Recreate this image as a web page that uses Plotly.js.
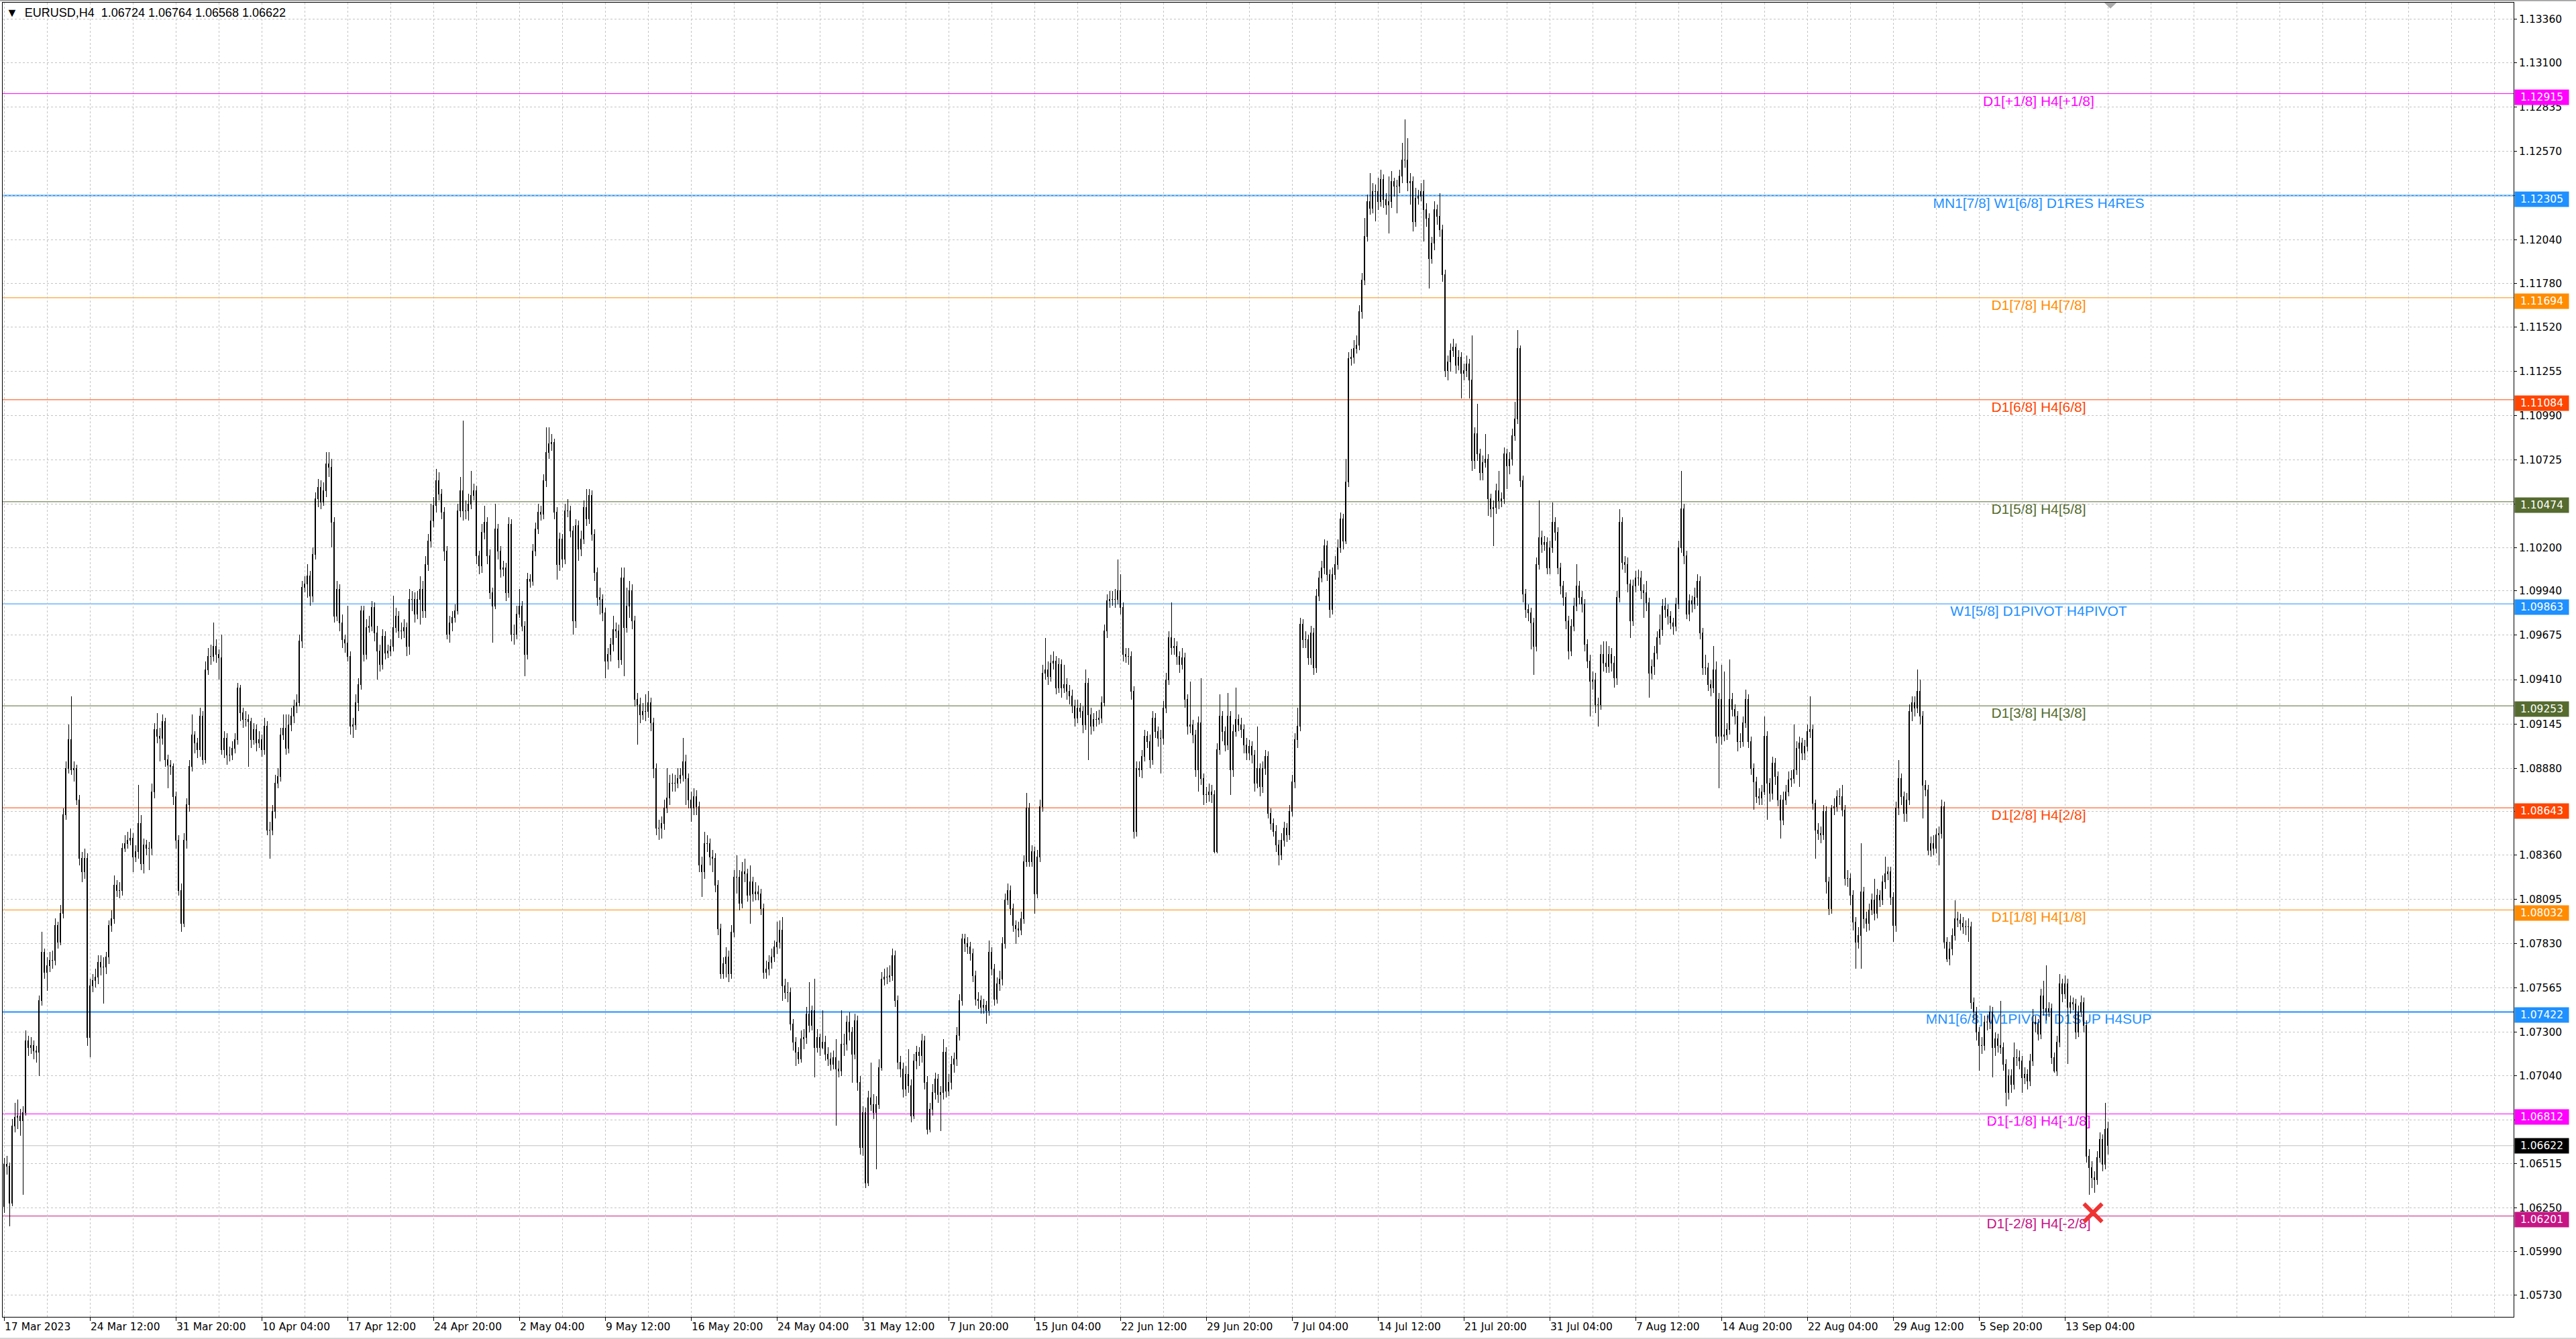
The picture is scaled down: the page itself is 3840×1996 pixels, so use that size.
<!DOCTYPE html>
<html>
<head>
<meta charset="utf-8">
<script src="https://cdn.plot.ly/plotly-3.0.1.min.js"></script>
<style>
html,body{margin:0;padding:0;background:#ffffff;overflow:hidden;}
#chart{width:3840px;height:1996px;}
#chart .boxlayer path{shape-rendering:crispEdges;}
</style>
</head>
<body>
<div id="chart"></div>
<script>
// ---------------- DATA ----------------
const symbolTitle = '\u25BC\u00a0\u00a0EURUSD,H4\u00a0\u00a01.06724 1.06764 1.06568 1.06622';

const timeLabels = ['17 Mar 2023','24 Mar 12:00','31 Mar 20:00','10 Apr 04:00','17 Apr 12:00','24 Apr 20:00',
  '2 May 04:00','9 May 12:00','16 May 20:00','24 May 04:00','31 May 12:00','7 Jun 20:00','15 Jun 04:00',
  '22 Jun 12:00','29 Jun 20:00','7 Jul 04:00','14 Jul 12:00','21 Jul 20:00','31 Jul 04:00','7 Aug 12:00',
  '14 Aug 20:00','22 Aug 04:00','29 Aug 12:00','5 Sep 20:00','13 Sep 04:00'];

// H4 candles, prices in pips above 1.0000 (e.g. 662 = 1.0662)
const openPips = [
626,651,650,628,674,679,680,677,682,725, 721,722,719,718,749,778,766,770,773,773,
794,784,801,860,888,905,887,888,869,834, 826,834,727,758,761,763,772,769,769,775,
794,798,818,815,815,840,843,845,846,835, 838,855,831,842,840,840,874,911,907,906,
916,893,890,889,871,845,815,795,845,866, 889,908,903,899,919,893,947,955,955,961,
956,954,899,906,896,896,900,905,936,921, 917,917,916,905,911,903,905,899,913,851,
851,862,879,883,908,912,900,914,919,925, 927,964,996,998,1003,991,1016,1049,1056,1047,
1054,1070,1068,1035,979,995,975,965,963,955, 913,914,927,938,982,956,972,973,984,969,
958,950,967,957,958,961,972,979,970,970, 972,961,989,989,980,989,995,982,1010,1024,
1036,1045,1060,1052,1041,1018,968,975,978,982, 1042,1054,1042,1042,1046,1051,1054,1015,1009,1029,
1035,1015,993,985,1031,1018,1007,1008,993,1034, 968,968,980,985,973,956,1001,1000,1018,1031,
1041,1040,1060,1077,1082,1083,1041,1010,1025,1013, 1042,1042,1030,976,1033,1019,1025,1044,1037,1051,
1028,1005,990,989,981,952,956,962,971,970, 953,1002,972,985,994,976,929,926,920,922,
922,927,915,888,852,852,855,864,870,879, 879,879,882,884,892,882,869,864,871,865,
830,826,843,843,835,834,818,792,765,771, 775,765,790,823,823,807,826,825,812,820,
813,814,813,804,766,768,772,775,781,784, 791,758,754,754,735,724,718,714,726,727,
741,734,743,721,727,721,724,717,714,711, 715,708,707,723,723,736,730,717,737,700,
661,682,640,691,687,682,687,709,762,763, 763,764,776,749,712,708,696,705,698,680,
713,718,716,725,700,672,684,694,702,693, 694,718,695,700,711,714,728,749,786,783,
781,777,764,750,749,745,746,743,778,768, 750,759,762,783,809,815,804,794,792,791,
798,832,864,832,838,813,835,865,945,947, 943,951,952,936,950,936,938,934,931,925,
918,924,922,914,939,920,913,917,917,918, 927,970,988,989,989,989,994,984,956,955,
955,934,850,888,887,895,907,904,893,918, 910,906,906,924,941,966,960,961,955,950,
954,929,913,914,908,887,915,882,872,872, 874,872,838,899,919,910,902,919,887,910,
917,914,911,902,897,901,896,879,888,877, 888,895,861,855,850,842,836,845,852,848,
862,880,905,913,974,965,965,954,969,948, 991,1002,1008,1021,1004,983,1004,1010,1020,1037,
1024,1059,1133,1134,1139,1141,1161,1180,1206,1227, 1223,1233,1233,1227,1240,1228,1225,1227,1239,1236,
1236,1242,1252,1252,1238,1239,1215,1229,1230,1233, 1222,1217,1193,1202,1222,1218,1210,1183,1126,1131,
1138,1140,1129,1134,1124,1126,1130,1120,1072,1088, 1076,1065,1071,1073,1049,1043,1044,1054,1048,1049,
1076,1069,1073,1087,1097,1139,1060,992,983,981, 975,961,1010,1026,1022,1023,1008,1020,1035,1029,
1008,997,990,976,958,973,985,997,990,986, 962,952,940,941,926,926,956,951,949,956,
951,942,990,1035,1011,1010,998,976,997,1002, 1002,994,993,987,945,949,957,966,971,985,
983,979,975,973,986,1020,1043,1015,980,988, 986,990,1000,969,948,948,938,936,947,907,
929,907,908,911,929,923,919,904,904,915, 929,904,888,880,871,870,874,907,879,873,
891,883,869,857,869,874,881,882,887,900, 903,897,901,910,911,867,851,849,848,862,
820,804,864,865,871,871,863,822,822,812, 796,784,788,814,798,795,803,809,801,812,
809,820,825,826,811,794,864,882,871,861, 869,922,927,924,934,919,878,875,839,843,
840,848,849,865,784,774,780,788,798,797, 795,793,793,793,748,742,730,722,722,736,
736,742,721,726,722,721,711,694,704,699, 715,715,713,703,705,701,713,736,735,729,
752,744,742,744,715,707,724,759,753,759, 745,748,747,730,742,748,734,656,649,643,
642,655,666,651,672.4];

const highPips = [
655,656,652,678,688,690,684,686,731,728, 727,725,722,752,790,780,775,778,779,798,
796,806,864,892,914,931,892,890,872,838, 840,837,762,765,768,776,776,775,778,797,
803,824,821,820,843,848,850,852,849,842, 878,860,846,845,844,879,915,921,912,920,
918,896,893,891,874,848,819,849,870,893, 920,910,906,924,922,952,960,962,975,965,
959,968,910,909,901,904,909,939,938,924, 922,920,918,915,914,910,908,918,916,856,
866,884,888,912,920,920,920,924,929,932, 968,1000,1003,1010,1006,1020,1053,1061,1060,1059,
1077,1077,1073,1038,1000,998,980,968,985,958, 918,932,942,985,985,977,979,988,987,973,
962,971,970,962,965,991,984,982,975,977, 975,995,994,993,994,1003,1000,1015,1028,1046,
1050,1067,1065,1055,1044,1021,979,982,986,1046, 1062,1096,1048,1052,1066,1058,1057,1018,1034,1045,
1038,1019,996,1046,1034,1021,1012,1011,1038,1037, 974,985,995,988,976,1005,1004,1022,1035,1046,
1045,1064,1092,1092,1088,1085,1044,1029,1028,1046, 1049,1045,1033,1037,1036,1030,1048,1055,1055,1054,
1031,1008,996,992,984,960,966,979,975,974, 1008,1008,996,1000,998,979,933,930,927,932,
934,930,918,891,857,859,869,888,884,885, 884,888,888,906,896,885,874,876,875,868,
835,850,848,846,839,837,821,795,775,781, 779,794,827,836,827,832,834,828,830,823,
820,818,816,807,773,776,780,785,796,797, 799,762,760,757,738,727,721,731,732,745,
760,746,762,732,729,743,728,721,718,719, 726,713,743,729,740,742,733,741,740,704,
686,685,695,712,693,692,714,766,768,769, 770,780,779,752,716,712,710,720,702,717,
722,721,729,728,704,688,699,706,705,698, 726,721,705,716,718,733,753,789,789,787,
784,780,767,754,752,750,749,785,781,771, 763,767,787,813,819,818,807,797,796,802,
836,873,867,842,841,839,869,950,966,952, 956,958,955,954,953,950,942,938,935,929,
929,927,925,947,942,924,921,922,923,931, 974,992,994,994,995,1013,1004,987,960,960,
958,937,892,892,899,911,910,908,922,921, 913,911,928,945,970,987,966,964,958,960,
957,932,940,917,911,919,942,885,877,879, 878,875,903,932,922,913,933,922,914,936,
920,918,914,906,905,904,899,913,891,892, 899,898,864,858,854,845,849,856,855,866,
884,909,924,978,977,970,968,973,972,995, 1006,1012,1025,1024,1007,1008,1015,1025,1041,1040,
1073,1137,1139,1144,1147,1165,1184,1217,1231,1244, 1238,1237,1241,1246,1243,1232,1242,1245,1241,1240,
1246,1262,1276,1265,1244,1242,1235,1234,1238,1240, 1226,1220,1206,1227,1225,1232,1213,1186,1135,1142,
1145,1142,1138,1137,1130,1135,1133,1147,1092,1106, 1079,1075,1088,1076,1052,1048,1058,1066,1053,1080,
1079,1077,1091,1107,1150,1141,1063,995,986,984, 978,1014,1048,1030,1027,1026,1024,1047,1038,1032,
1011,1000,993,979,977,990,1010,1000,994,989, 965,956,946,945,930,962,964,964,961,960,
955,994,1043,1038,1015,1014,1001,1001,1006,1007, 1006,998,1000,990,953,961,970,980,989,990,
986,982,978,990,1024,1066,1046,1018,992,991, 996,1004,1003,972,956,951,941,961,952,933,
950,946,915,953,933,926,922,909,919,935, 932,907,891,883,876,878,919,910,882,895,
894,886,872,874,878,886,887,914,904,907, 906,905,914,931,914,869,855,853,866,865,
823,866,870,875,876,878,866,827,825,815, 799,793,843,817,802,807,813,822,816,815,
824,835,829,829,814,868,893,885,874,873, 926,931,931,947,941,922,881,878,847,848,
852,853,869,868,787,784,792,809,802,801, 799,797,798,796,751,745,733,727,740,740,
746,745,730,729,749,724,714,708,708,724, 720,719,716,709,708,717,744,740,738,756,
761,770,748,747,718,728,765,762,764,762, 752,751,750,746,752,751,737,660,653,647,
659,670,669,688,676.4];

const lowPips = [
622,645,614,626,670,672,668,633,680,716, 717,714,712,704,746,762,755,766,768,770,
780,782,798,857,885,884,880,866,830,820, 822,722,715,754,757,759,764,747,765,771,
790,795,811,810,812,838,840,842,826,832, 834,827,825,836,827,836,870,903,892,902,
889,876,884,866,840,812,790,793,840,862, 886,897,894,895,890,891,944,950,952,951,
941,896,894,890,892,893,897,902,916,912, 913,889,900,902,898,900,895,896,848,834,
848,858,876,880,905,896,897,910,915,921, 925,960,993,990,985,987,1013,1044,1043,1045,
1050,1062,1020,975,976,970,960,957,952,908, 906,911,922,935,952,953,969,970,964,941,
946,947,953,954,955,958,969,966,965,966, 955,956,982,975,977,974,978,978,1006,1020,
1032,1041,1048,1037,1012,965,963,970,975,980, 1038,1036,1037,1036,1043,1048,1010,1004,1005,1025,
1010,989,963,983,1013,1002,1003,988,990,964, 962,965,978,970,943,953,996,997,1015,1028,
1036,1037,1056,1073,1078,1037,1001,1006,1008,1010, 1038,1026,968,972,1012,1015,1022,1033,1034,1024,
1000,985,980,976,942,947,952,958,966,948, 950,943,969,978,971,925,902,915,917,916,
918,910,882,848,845,846,851,861,866,874, 874,876,879,880,866,864,856,860,860,826,
811,822,838,830,826,814,788,762,762,763, 760,762,787,813,803,804,820,808,795,808,
809,809,800,762,762,764,768,772,777,780, 749,750,748,731,719,710,711,712,720,723,
730,731,703,718,716,720,713,710,707,708, 674,703,704,716,719,725,700,714,695,657,
656,637,638,683,678,648,684,707,758,759, 760,761,745,708,703,691,692,694,676,678,
708,710,712,696,669,670,680,690,688,671, 690,691,692,696,706,710,725,746,778,777,
773,760,746,744,741,741,735,740,764,746, 747,755,758,780,806,800,790,783,787,788,
795,829,829,829,801,810,832,862,941,938, 940,947,932,933,930,933,929,926,921,913,
915,918,909,911,893,908,910,913,914,915, 925,966,984,985,984,986,980,952,951,950,
929,846,847,883,882,892,900,888,890,906, 901,885,902,921,938,956,956,950,945,947,
924,908,909,903,883,874,878,866,867,868, 867,837,837,896,904,898,899,872,883,907,
910,906,897,893,893,891,874,876,871,873, 884,858,851,847,838,830,833,841,844,845,
859,876,900,910,960,960,950,950,944,945, 988,999,1004,1000,978,980,1001,1007,1017,1019,
1022,1056,1129,1130,1136,1138,1157,1177,1203,1219, 1220,1215,1222,1224,1223,1219,1208,1223,1230,1220,
1232,1238,1247,1233,1225,1209,1212,1225,1227,1203, 1212,1175,1190,1198,1213,1206,1179,1122,1120,1125,
1134,1124,1126,1109,1120,1122,1109,1066,1067,1072, 1060,1060,1068,1039,1038,1021,1040,1043,1044,1046,
1055,1064,1069,1084,1094,1056,987,978,976,959, 944,958,1007,1017,1018,1004,1004,1017,1024,1004,
992,985,971,953,955,970,982,986,981,958, 948,919,935,921,913,923,946,945,945,946,
936,938,987,1007,1005,993,966,973,993,997, 989,978,982,930,941,944,953,962,967,978,
974,971,968,970,983,1017,1010,977,976,981, 983,985,965,944,944,934,931,933,903,876,
902,904,905,908,919,914,898,900,901,912, 900,884,863,867,866,866,872,857,868,869,
878,865,846,854,866,871,877,879,884,877, 893,893,898,906,863,834,845,843,845,813,
800,801,860,862,866,859,818,817,806,791, 768,780,768,792,790,791,800,797,798,805,
806,816,821,806,784,790,860,866,856,856, 866,916,919,921,914,858,871,836,835,836,
837,830,846,780,772,770,776,785,793,791, 789,788,784,744,737,725,707,717,719,731,
732,703,716,718,717,707,686,690,694,696, 710,708,694,699,696,698,710,730,725,726,
740,737,739,711,706,704,721,748,750,711, 741,743,726,727,739,730,652,633,637,634,
639,652,647,648,656.8];

const closePips = [
651,650,628,674,679,680,677,682,725,721, 722,719,718,749,778,766,770,773,773,794,
784,801,860,888,905,887,888,869,834,826, 834,727,758,761,763,772,769,769,775,794,
798,818,815,815,840,843,845,846,835,838, 855,831,842,840,840,874,911,907,906,916,
893,890,889,871,845,815,795,845,866,889, 908,903,899,919,893,947,955,955,961,956,
954,899,906,896,896,900,905,936,921,917, 917,916,905,911,903,905,899,913,851,851,
862,879,883,908,912,900,914,919,925,927, 964,996,998,1003,991,1016,1049,1056,1047,1054,
1070,1068,1035,979,995,975,965,963,955,913, 914,927,938,982,956,972,973,984,969,958,
950,967,957,958,961,972,979,970,970,972, 961,989,989,980,989,995,982,1010,1024,1036,
1045,1060,1052,1041,1018,968,975,978,982,1042, 1054,1042,1042,1046,1051,1054,1015,1009,1029,1035,
1015,993,985,1031,1018,1007,1008,993,1034,968, 968,980,985,973,956,1001,1000,1018,1031,1041,
1040,1060,1077,1082,1083,1041,1010,1025,1013,1042, 1042,1030,976,1033,1019,1025,1044,1037,1051,1028,
1005,990,989,981,952,956,962,971,970,953, 1002,972,985,994,976,929,926,920,922,922,
927,915,888,852,852,855,864,870,879,879, 879,882,884,892,882,869,864,871,865,830,
826,843,843,835,834,818,792,765,771,775, 765,790,823,823,807,826,825,812,820,813,
814,813,804,766,768,772,775,781,784,791, 758,754,754,735,724,718,714,726,727,741,
734,743,721,727,721,724,717,714,711,715, 708,707,723,723,736,730,717,737,700,661,
682,640,691,687,682,687,709,762,763,763, 764,776,749,712,708,696,705,698,680,713,
718,716,725,700,672,684,694,702,693,694, 718,695,700,711,714,728,749,786,783,781,
777,764,750,749,745,746,743,778,768,750, 759,762,783,809,815,804,794,792,791,798,
832,864,832,838,813,835,865,945,947,943, 951,952,936,950,936,938,934,931,925,918,
924,922,914,939,920,913,917,917,918,927, 970,988,989,989,989,994,984,956,955,955,
934,850,888,887,895,907,904,893,918,910, 906,906,924,941,966,960,961,955,950,954,
929,913,914,908,887,915,882,872,872,874, 872,838,899,919,910,902,919,887,910,917,
914,911,902,897,901,896,879,888,877,888, 895,861,855,850,842,836,845,852,848,862,
880,905,913,974,965,965,954,969,948,991, 1002,1008,1021,1004,983,1004,1010,1020,1037,1024,
1059,1133,1134,1139,1141,1161,1180,1206,1227,1223, 1233,1233,1227,1240,1228,1225,1227,1239,1236,1236,
1242,1252,1252,1238,1239,1215,1229,1230,1233,1222, 1217,1193,1202,1222,1218,1210,1183,1126,1131,1138,
1140,1129,1134,1124,1126,1130,1120,1072,1088,1076, 1065,1071,1073,1049,1043,1044,1054,1048,1049,1076,
1069,1073,1087,1097,1139,1060,992,983,981,975, 961,1010,1026,1022,1023,1008,1020,1035,1029,1008,
997,990,976,958,973,985,997,990,986,962, 952,940,941,926,926,956,951,949,956,951,
942,990,1035,1011,1010,998,976,997,1002,1002, 994,993,987,945,949,957,966,971,985,983,
979,975,973,986,1020,1043,1015,980,988,986, 990,1000,969,948,948,938,936,947,907,929,
907,908,911,929,923,919,904,904,915,929, 904,888,880,871,870,874,907,879,873,891,
883,869,857,869,874,881,882,887,900,903, 897,901,910,911,867,851,849,848,862,820,
804,864,865,871,871,863,822,822,812,796, 784,788,814,798,795,803,809,801,812,809,
820,825,826,811,794,864,882,871,861,869, 922,927,924,934,919,878,875,839,843,840,
848,849,865,784,774,780,788,798,797,795, 793,793,793,748,742,730,722,722,736,736,
742,721,726,722,721,711,694,704,699,715, 715,713,703,705,701,713,736,735,729,752,
744,742,744,715,707,724,759,753,759,745, 748,747,730,742,748,734,656,649,643,642,
655,666,651,672,662.2];

// Murrey-style levels
const levelPrices = [1.13525, 1.12915, 1.12305, 1.11694, 1.11084, 1.10474, 1.09863, 1.09253, 1.08643, 1.08032, 1.07422, 1.06812, 1.06201];
const levelNames = ['D1[+2/8] H4[+2/8]', 'D1[+1/8] H4[+1/8]', 'MN1[7/8] W1[6/8] D1RES H4RES', 'D1[7/8] H4[7/8]',
  'D1[6/8] H4[6/8]', 'D1[5/8] H4[5/8]', 'W1[5/8] D1PIVOT H4PIVOT', 'D1[3/8] H4[3/8]', 'D1[2/8] H4[2/8]',
  'D1[1/8] H4[1/8]', 'MN1[6/8] W1PIVOT D1SUP H4SUP', 'D1[-1/8] H4[-1/8]', 'D1[-2/8] H4[-2/8]'];
const bidPrice = 1.06622;

const yTickValues = [1.13360,1.13100,1.12835,1.12570,1.12305,1.12040,1.11780,1.11520,1.11255,1.10990,1.10725,1.10460,
  1.10200,1.09940,1.09675,1.09410,1.09145,1.08880,1.08620,1.08360,1.08095,1.07830,1.07565,1.07300,1.07040,1.06775,
  1.06515,1.06250,1.05990,1.05730];
const yTickHidden = [1.12305, 1.10460, 1.08620, 1.06775];

const signalBar = [778.5];
const signalPrice = [1.0622];

// ---------------- STYLE ----------------
const levelColors = ['#C71585','#FF00FF','#1E90FF','#FF8C00','#FF4500','#556B2F','#1E90FF','#556B2F','#FF4500','#FF8C00','#1E90FF','#FF00FF','#C71585'];
const levelWidths = [1,1,2,1,1,1,1,1,1,1,2,1,1];
const LABEL_BAR = 758.25;
const LABEL_LIFT = 0.00012;   // small upward nudge of the level captions (about 3 px)
const BARS_PER_LABEL = 32, BARS_PER_GRID = 16;
const GRID = '#c4c4c4';
const AXFONT = {family: 'DejaVu Sans', size: 15.5, color: '#000000'};
const Y_MIN = 1.05598, Y_MAX = 1.13459;

// ---------------- BUILD ----------------
const toPrice = p => +(1 + p / 10000).toFixed(5);
const barIdx = closePips.map((_, i) => i);
const tickIdx = timeLabels.map((_, k) => k * BARS_PER_LABEL);
const gridIdx = [];
for (let g = 0; g <= 935; g += BARS_PER_GRID) gridIdx.push(g);
const yTickText = yTickValues.map(v => yTickHidden.includes(v) ? '' : v.toFixed(5));
const inRange = p => p >= Y_MIN && p <= Y_MAX;

const candles = {
  type: 'candlestick', x: barIdx,
  open: openPips.map(toPrice), high: highPips.map(toPrice),
  low: lowPips.map(toPrice), close: closePips.map(toPrice),
  increasing: {line: {color: '#000000', width: 1}, fillcolor: '#ffffff'},
  decreasing: {line: {color: '#000000', width: 1}, fillcolor: '#000000'},
  whiskerwidth: 0, hoverinfo: 'skip', showlegend: false
};

// caption of the level above the visible range (only its lower edge shows at the top)
const outIdx = levelPrices.map((p, k) => k).filter(k => !inRange(levelPrices[k]));
const levelTextOut = {
  type: 'scatter', mode: 'text',
  x: outIdx.map(() => LABEL_BAR), y: outIdx.map(k => levelPrices[k]), text: outIdx.map(k => levelNames[k]),
  textposition: 'bottom center',
  textfont: {family: 'Liberation Sans', size: 21, color: outIdx.map(k => levelColors[k])},
  cliponaxis: false, hoverinfo: 'skip', showlegend: false
};

const signal = {
  type: 'scatter', mode: 'markers', x: signalBar, y: signalPrice,
  marker: {symbol: 'x-thin', size: 27, color: '#EE3030', line: {color: '#EE3333', width: 6}},
  hoverinfo: 'skip', showlegend: false
};

const shapes = [];
levelPrices.forEach((p, k) => {
  shapes.push({type: 'line', xref: 'paper', x0: 0, x1: 1, yref: 'y', y0: p, y1: p, layer: 'below',
    line: {color: levelColors[k], width: levelWidths[k]}});
  if (inRange(p)) {
    // caption drawn behind the candles, centred just under its line
    const yl = p + LABEL_LIFT;
    shapes.push({type: 'line', xref: 'x', x0: LABEL_BAR - 2, x1: LABEL_BAR + 2, yref: 'y', y0: yl, y1: yl, layer: 'below',
      line: {color: 'rgba(0,0,0,0)', width: 1},
      label: {text: levelNames[k], textposition: 'middle', yanchor: 'top', padding: 0,
        font: {family: 'Liberation Sans', size: 21, color: levelColors[k]}}});
  }
});
shapes.push({type: 'line', xref: 'paper', x0: 0, x1: 1, yref: 'y', y0: bidPrice, y1: bidPrice, layer: 'below',
  line: {color: '#c0c0c0', width: 1}});
// chart-shift marker (grey triangle at top)
shapes.push({type: 'path', xref: 'x', yref: 'paper', path: 'M 782.7 1 L 787.3 1 L 785 0.9955 Z',
  fillcolor: '#a8a8a8', line: {width: 0}});
// window frame lines
shapes.push({type: 'rect', xref: 'paper', yref: 'paper', x0: -0.002, x1: 1.03, y0: 1.0011, y1: 1.0021,
  fillcolor: '#a0a0a0', line: {width: 0}});
shapes.push({type: 'rect', xref: 'paper', yref: 'paper', x0: -0.002, x1: 1.03, y0: -0.0169, y1: -0.0159,
  fillcolor: '#d0d0d0', line: {width: 0}});

const annotations = [];
levelPrices.forEach((p, k) => {
  if (!inRange(p)) return;
  annotations.push({xref: 'paper', x: 1, xanchor: 'left', xshift: 1, yref: 'y', y: p, yanchor: 'middle', yshift: -5,
    text: p.toFixed(5), showarrow: false, bgcolor: levelColors[k], width: 78, height: 20, borderpad: 1,
    align: 'center', font: {family: 'DejaVu Sans', size: 15.5, color: '#ffffff'}});
});
annotations.push({xref: 'paper', x: 1, xanchor: 'left', xshift: 1, yref: 'y', y: bidPrice, yanchor: 'middle',
  text: bidPrice.toFixed(5), showarrow: false, bgcolor: '#000000', width: 78, height: 20, borderpad: 1,
  align: 'center', font: {family: 'DejaVu Sans', size: 15.5, color: '#ffffff'}});

const layout = {
  width: 3840, height: 1996,
  margin: {l: 4, r: 93, t: 4, b: 33, pad: 0},
  paper_bgcolor: '#ffffff', plot_bgcolor: '#ffffff',
  showlegend: false,
  title: {text: symbolTitle, xref: 'container', x: 9 / 3840, xanchor: 'left',
    yref: 'container', y: 1 - 19 / 1996, yanchor: 'middle',
    font: {family: 'Liberation Sans', size: 18, color: '#000000'}},
  xaxis: {
    range: [-0.5, 935.25], tickmode: 'array', tickvals: tickIdx, ticktext: timeLabels,
    ticks: 'outside', ticklen: 5, tickcolor: '#000000', tickwidth: 1,
    ticklabelposition: 'outside right', tickfont: AXFONT,
    showgrid: true, gridcolor: GRID, griddash: '3px,3px', gridwidth: 1,
    minor: {tickmode: 'array', tickvals: gridIdx, showgrid: true, gridcolor: GRID, griddash: '3px,3px', gridwidth: 1, ticks: ''},
    showline: true, mirror: true, linecolor: '#000000', linewidth: 1,
    zeroline: false, rangeslider: {visible: false}, fixedrange: true
  },
  yaxis: {
    side: 'right', range: [Y_MIN, Y_MAX], tickmode: 'array', tickvals: yTickValues, ticktext: yTickText,
    ticks: 'outside', ticklen: 4, tickcolor: '#000000', tickwidth: 1, tickfont: AXFONT,
    showgrid: true, gridcolor: GRID, griddash: '3px,3px', gridwidth: 1,
    showline: true, mirror: true, linecolor: '#000000', linewidth: 1,
    zeroline: false, fixedrange: true
  },
  shapes: shapes,
  annotations: annotations
};

Plotly.newPlot('chart', [candles, levelTextOut, signal], layout, {staticPlot: true, displayModeBar: false});
</script>
</body>
</html>
